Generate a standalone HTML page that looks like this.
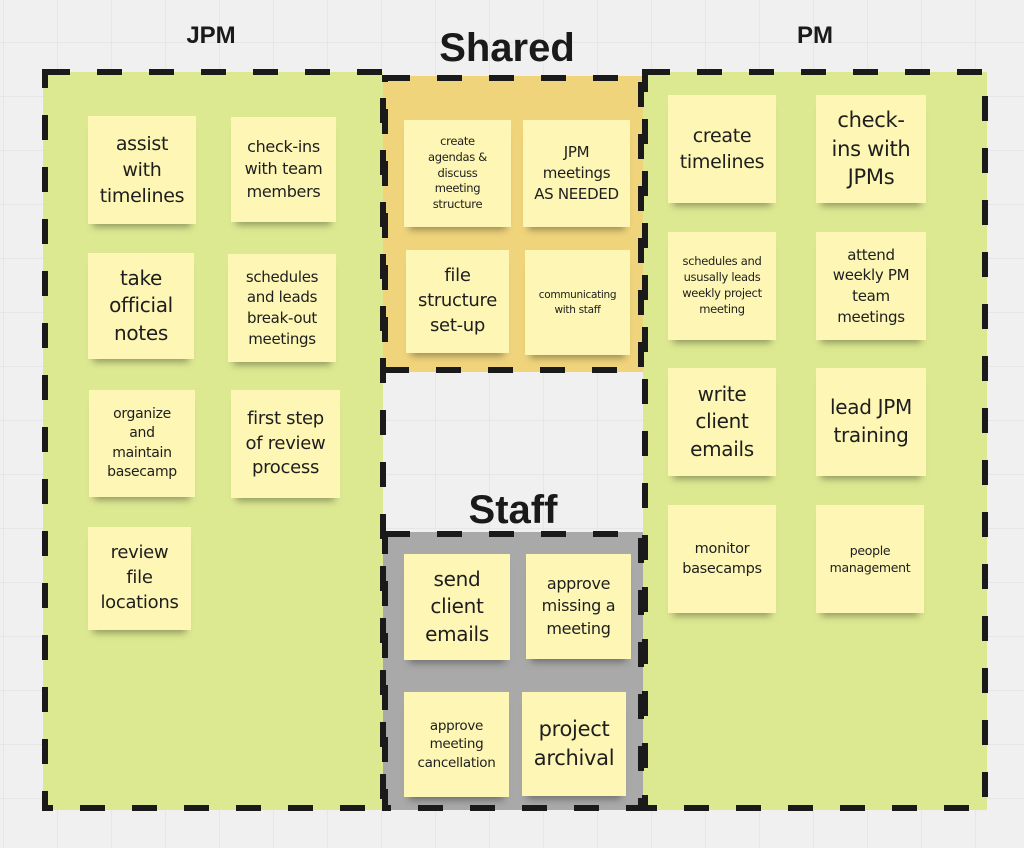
<!DOCTYPE html>
<html><head><meta charset="utf-8"><style>
html,body{margin:0;padding:0}
body{width:1024px;height:848px;position:relative;overflow:hidden;background:#f0f0f0;
background-image:linear-gradient(#e6e6e6 1px,transparent 1px),linear-gradient(90deg,#e6e6e6 1px,transparent 1px);
background-size:54px 54px;background-position:3px 42px;font-family:"DejaVu Sans","Liberation Sans",sans-serif;color:#1e1e1e}
.r{position:absolute}
.t{position:absolute;font-weight:bold;text-align:center;transform:translateX(-50%);white-space:nowrap;color:#1a1a1a;font-family:"Liberation Sans",sans-serif}
.s{position:absolute;background:#fdf6b4;display:flex;align-items:center;justify-content:center;text-align:center;line-height:1.38;white-space:nowrap;
box-shadow:0 8px 7px -5px rgba(0,0,0,0.35);box-sizing:border-box;padding:2px;letter-spacing:-0.3px}
svg{position:absolute;left:0;top:0}
</style></head><body>
<div class="r" style="left:43px;top:72px;width:340px;height:738px;background:#dde991"></div>
<div class="r" style="left:643px;top:72px;width:344px;height:738px;background:#dde991"></div>
<div class="r" style="left:383px;top:76px;width:260px;height:296px;background:#f0d47c"></div>
<div class="r" style="left:383px;top:532px;width:260px;height:278px;background:#a9a9a9"></div>
<svg width="1024" height="848">
<g fill="none" stroke="#1a1a1a" stroke-width="6" stroke-dasharray="25 27">
<rect x="45" y="72" width="338" height="736"/>
<rect x="645" y="72" width="340" height="736"/>
<rect x="385" y="78" width="256" height="292"/>
<rect x="385" y="534" width="256" height="274"/>
</g></svg>
<div class="t" style="left:211px;top:22px;font-size:24px">JPM</div>
<div class="t" style="left:815px;top:22px;font-size:24px">PM</div>
<div class="t" style="left:507px;top:26px;font-size:40px">Shared</div>
<div class="t" style="left:513px;top:488px;font-size:40px">Staff</div>

<div class="s" style="left:88px;top:116px;width:108px;height:108px;font-size:19px">assist<br>with<br>timelines</div>
<div class="s" style="left:231px;top:117px;width:105px;height:105px;font-size:16px">check-ins<br>with team<br>members</div>
<div class="s" style="left:88px;top:253px;width:106px;height:106px;font-size:20px">take<br>official<br>notes</div>
<div class="s" style="left:228px;top:254px;width:108px;height:108px;font-size:15px">schedules<br>and leads<br>break-out<br>meetings</div>
<div class="s" style="left:89px;top:390px;width:106px;height:107px;font-size:14px">organize<br>and<br>maintain<br>basecamp</div>
<div class="s" style="left:231px;top:390px;width:109px;height:108px;font-size:18px">first step<br>of review<br>process</div>
<div class="s" style="left:88px;top:527px;width:103px;height:103px;font-size:18px">review<br>file<br>locations</div>

<div class="s" style="left:404px;top:120px;width:107px;height:107px;font-size:11.5px">create<br>agendas &amp;<br>discuss<br>meeting<br>structure</div>
<div class="s" style="left:523px;top:120px;width:107px;height:107px;font-size:15px">JPM<br>meetings<br>AS NEEDED</div>
<div class="s" style="left:406px;top:250px;width:103px;height:103px;font-size:18px">file<br>structure<br>set-up</div>
<div class="s" style="left:525px;top:250px;width:105px;height:105px;font-size:10.5px">communicating<br>with staff</div>

<div class="s" style="left:404px;top:554px;width:106px;height:106px;font-size:20px">send<br>client<br>emails</div>
<div class="s" style="left:526px;top:554px;width:105px;height:105px;font-size:16px">approve<br>missing a<br>meeting</div>
<div class="s" style="left:404px;top:692px;width:105px;height:105px;font-size:13.5px">approve<br>meeting<br>cancellation</div>
<div class="s" style="left:522px;top:692px;width:104px;height:104px;font-size:21px">project<br>archival</div>

<div class="s" style="left:668px;top:95px;width:108px;height:108px;font-size:19px">create<br>timelines</div>
<div class="s" style="left:816px;top:95px;width:110px;height:108px;font-size:21px">check-<br>ins with<br>JPMs</div>
<div class="s" style="left:668px;top:232px;width:108px;height:108px;font-size:11.5px">schedules and<br>ususally leads<br>weekly project<br>meeting</div>
<div class="s" style="left:816px;top:232px;width:110px;height:108px;font-size:15px">attend<br>weekly PM<br>team<br>meetings</div>
<div class="s" style="left:668px;top:368px;width:108px;height:108px;font-size:20px">write<br>client<br>emails</div>
<div class="s" style="left:816px;top:368px;width:110px;height:108px;font-size:20px">lead JPM<br>training</div>
<div class="s" style="left:668px;top:505px;width:108px;height:108px;font-size:14.5px">monitor<br>basecamps</div>
<div class="s" style="left:816px;top:505px;width:108px;height:108px;font-size:12.5px">people<br>management</div>
</body></html>
